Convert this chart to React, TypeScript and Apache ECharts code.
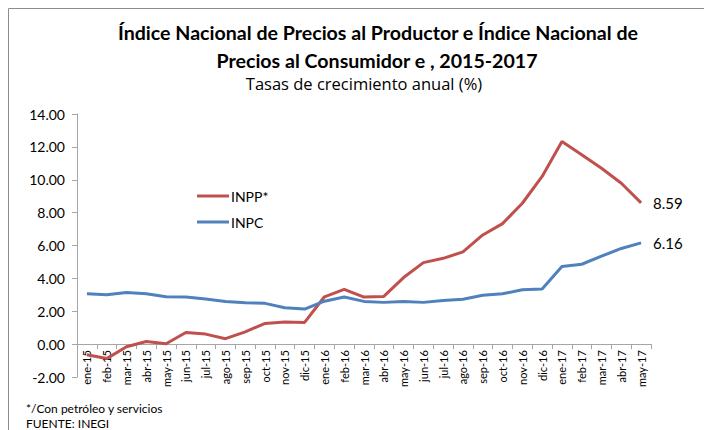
import React, { useEffect, useRef } from "react";
import * as echarts from "echarts";

const categories = [
  "ene-15", "feb-15", "mar-15", "abr-15", "may-15", "jun-15", "jul-15", "ago-15", "sep-15", "oct-15", "nov-15", "dic-15",
  "ene-16", "feb-16", "mar-16", "abr-16", "may-16", "jun-16", "jul-16", "ago-16", "sep-16", "oct-16", "nov-16", "dic-16",
  "ene-17", "feb-17", "mar-17", "abr-17", "may-17",
];

const inpp = [
  -0.65, -0.88, -0.16, 0.16, 0.02, 0.71, 0.61, 0.33, 0.75, 1.26, 1.34, 1.32,
  2.88, 3.33, 2.86, 2.9, 4.05, 4.96, 5.22, 5.61, 6.64, 7.33, 8.57, 10.2,
  12.33, 11.52, 10.7, 9.79, 8.59,
];

const inpc = [
  3.07, 3.0, 3.14, 3.06, 2.88, 2.87, 2.74, 2.59, 2.52, 2.48, 2.21, 2.13,
  2.61, 2.87, 2.6, 2.54, 2.6, 2.54, 2.65, 2.73, 2.97, 3.06, 3.31, 3.36,
  4.72, 4.86, 5.35, 5.82, 6.16,
];

const yTicks = { min: -2, max: 14, interval: 2 };

const FONT = "Lato, 'Open Sans', sans-serif";
const FONT2 = "'Open Sans', Lato, sans-serif";

export default function App() {
  const ref = useRef<HTMLDivElement>(null);
  useEffect(() => {
    if (!ref.current) return;
    const chart = echarts.init(ref.current, undefined, { renderer: "svg" });
    const gridTop = 114;
    const gridBottom = 53;
    const plotH = 430 - gridTop - gridBottom;
    const zeroOffset = (plotH * (0 - yTicks.min)) / (yTicks.max - yTicks.min);
    chart.setOption({
      animation: false,
      backgroundColor: "#ffffff",
      textStyle: { fontFamily: FONT },
      graphic: [
        {
          type: "rect",
          shape: { x: 8.5, y: 8.5, width: 720, height: 460 },
          style: { fill: "none", stroke: "#8c8c8c", lineWidth: 1 },
          silent: true,
          z: -1,
        },
        {
          type: "text",
          x: 378,
          y: 20,
          style: {
            text: "Índice Nacional de Precios al Productor e Índice Nacional de",
            fontFamily: FONT,
            fontSize: 19.6,
            fontWeight: "bold",
            fill: "#000",
            align: "center",
            verticalAlign: "middle",
            y: 12,
          },
        },
        {
          type: "text",
          x: 377,
          y: 48,
          style: {
            text: "Precios al Consumidor e , 2015-2017",
            fontFamily: FONT,
            fontSize: 19.6,
            fontWeight: "bold",
            fill: "#000",
            align: "center",
            verticalAlign: "middle",
            y: 12,
          },
        },
        {
          type: "text",
          x: 364,
          y: 71,
          style: {
            text: "Tasas de crecimiento anual (%)",
            fontFamily: FONT2,
            fontSize: 16.5,
            fill: "#000",
            align: "center",
            verticalAlign: "middle",
            y: 12,
          },
        },
        {
          type: "text",
          left: 26,
          top: 401,
          style: {
            text: "*/Con petróleo y servicios\nFUENTE: INEGI",
            fontFamily: FONT,
            fontSize: 12,
            lineHeight: 15,
            fill: "#000",
          },
        },
      ],
      legend: {
        orient: "vertical",
        left: 192,
        top: 184,
        itemWidth: 32,
        itemHeight: 3,
        itemGap: 12,
        icon: "rect",
        data: ["INPP*", "INPC"],
        textStyle: { fontFamily: FONT, fontSize: 14, color: "#000", padding: [0, 0, 0, -3] },
      },
      grid: { left: 77, right: 53, top: gridTop, bottom: gridBottom, containLabel: false },
      xAxis: {
        type: "category",
        data: categories,
        boundaryGap: true,
        offset: -zeroOffset,
        axisLine: { onZero: false, lineStyle: { color: "#a6a6a6", width: 1 } },
        axisTick: { show: true, length: 5, lineStyle: { color: "#a6a6a6" } },
        axisLabel: { rotate: 90, fontSize: 11, color: "#000", margin: 6, interval: 0, fontFamily: FONT },
        splitLine: { show: false },
      },
      yAxis: {
        type: "value",
        min: yTicks.min,
        max: yTicks.max,
        interval: yTicks.interval,
        axisLine: { show: true, lineStyle: { color: "#a6a6a6", width: 1 } },
        axisTick: { show: true, length: 5, lineStyle: { color: "#a6a6a6" } },
        axisLabel: {
          fontSize: 14,
          color: "#000",
          margin: 12,
          fontFamily: FONT,
          formatter: (v: number) => v.toFixed(2),
        },
        splitLine: { show: false },
      },
      series: [
        {
          name: "INPP*",
          type: "line",
          data: inpp,
          symbol: "none",
          color: "#C0504D",
          lineStyle: { width: 3, color: "#C0504D" },
          endLabel: {
            show: true,
            distance: 12,
            fontSize: 15,
            color: "#000",
            fontFamily: FONT,
            formatter: (p: any) => Number(p.value).toFixed(2),
          },
        },
        {
          name: "INPC",
          type: "line",
          data: inpc,
          symbol: "none",
          color: "#4F81BD",
          lineStyle: { width: 3, color: "#4F81BD" },
          endLabel: {
            show: true,
            distance: 12,
            fontSize: 15,
            color: "#000",
            fontFamily: FONT,
            formatter: (p: any) => Number(p.value).toFixed(2),
          },
        },
      ],
    });
    return () => chart.dispose();
  }, []);
  return (
    <div
      ref={ref}
      style={{ position: "fixed", left: 0, top: 0, width: 704, height: 430 }}
    />
  );
}
